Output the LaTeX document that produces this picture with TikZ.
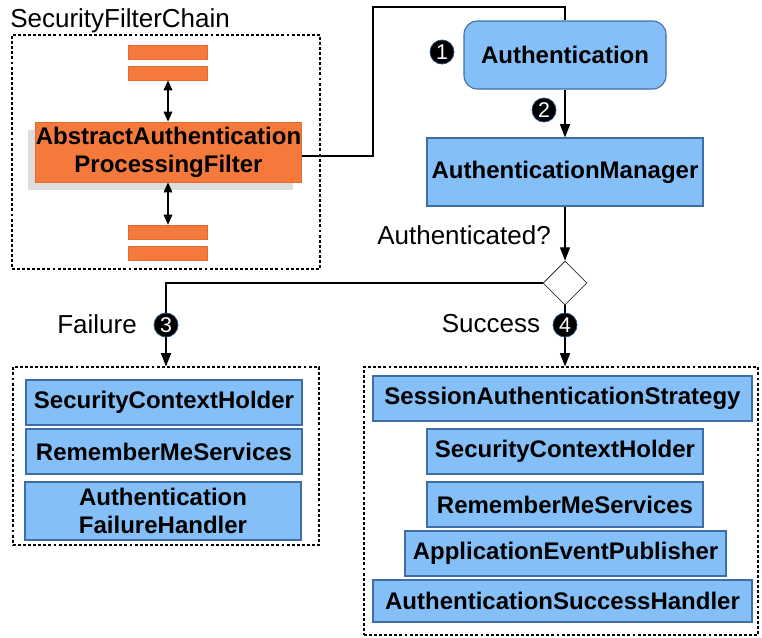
\documentclass[tikz,border=0pt]{standalone}
\usepackage{fontspec}
\setmainfont{Liberation Sans}
\usetikzlibrary{arrows.meta,shapes.geometric}
\definecolor{bluef}{HTML}{84BFF7}
\definecolor{blued}{HTML}{3F6EA6}
\definecolor{orangef}{HTML}{F5793B}
\definecolor{oranged}{HTML}{E06A30}
\definecolor{shadowc}{HTML}{DDDDDD}
\newcommand\pxu{0.75pt}
\begin{document}
\begin{tikzpicture}[x=0.75pt,y=-0.75pt,
  boxtext/.style={font=\bfseries\fontsize{18}{21}\selectfont},
  bluebox/.style={boxtext,draw=blued,fill=bluef,line width=0.8pt,inner sep=0pt,align=center},
  orangebox/.style={boxtext,draw=oranged,fill=orangef,line width=0.6pt,inner sep=0pt,align=center},
  bar/.style={draw=oranged,fill=orangef,line width=0.5pt,inner sep=0pt,minimum width=79*\pxu,minimum height=14*\pxu},
  dashbox/.style={draw=black,dash pattern=on 2.2pt off 1.6pt,line width=0.8pt,inner sep=0pt},
  lbl/.style={font=\fontsize{19.5}{22}\selectfont,inner sep=0pt},
  num/.style={circle,fill=black,draw=blued!70!black,line width=0.6pt,text=white,inner sep=0pt,minimum size=24*\pxu,font=\fontsize{16}{16}\selectfont},
  line/.style={draw=black,line width=1pt},
  arr/.style={line,-{Triangle[length=10pt,width=7.5pt]}},
  darr/.style={line,{Triangle[length=7.5pt,width=6.5pt]}-{Triangle[length=7.5pt,width=6.5pt]}}
]
\useasboundingbox (0,0) rectangle (762,637);

% Security filter chain
\node[lbl,anchor=base west] (sfc) at (10,27) {SecurityFilterChain};
\node[dashbox,minimum width=308*\pxu,minimum height=234*\pxu] (chain) at (166,152) {};
\node[bar] (b1) at (168,52) {};
\node[bar] (b2) at (168,73) {};
\node[bar] (b3) at (168,232) {};
\node[bar] (b4) at (168,253) {};
\node[fill=shadowc,inner sep=0pt,minimum width=265*\pxu,minimum height=60*\pxu] (shadow) at (160.5,160) {};
\node[orangebox,minimum width=265*\pxu,minimum height=60*\pxu] (aapf) at (168.5,152) {AbstractAuthentication\\ProcessingFilter};
\draw[darr] (b2.south) -- (b2.south |- aapf.north);
\draw[darr] (b3.north |- aapf.south) -- (b3.north);

% Authentication
\node[bluebox,rounded corners=10pt,minimum width=202*\pxu,minimum height=68*\pxu] (auth) at (565,55) {Authentication};
\node[bluebox,minimum width=276*\pxu,minimum height=68*\pxu] (am) at (565,172) {AuthenticationManager};
\node[draw=black!80,fill=white,diamond,aspect=1,inner sep=0pt,minimum size=44*\pxu,line width=0.6pt] (dia) at (565,283) {};
\node[lbl,anchor=east] (authq) at (551,235) {Authenticated?};

\coordinate (c1) at (373,7);
\draw[line] ([yshift=-3pt]aapf.east) -| (c1) -| (auth.north);
\draw[arr] (auth.south) -- (am.north);
\draw[arr] (am.south) -- (dia.north);

% Failure
\node[dashbox,minimum width=306*\pxu,minimum height=178*\pxu] (fbox) at (166,456) {};
\node[bluebox,minimum width=276*\pxu,minimum height=45*\pxu] (fsch) at (164,402.5) {SecurityContextHolder};
\node[bluebox,minimum width=276*\pxu,minimum height=45*\pxu] (frms) at (164,451.5) {RememberMeServices};
\node[bluebox,minimum width=276*\pxu,minimum height=58*\pxu] (fafh) at (163,511) {Authentication\\FailureHandler};
\node[lbl] (flbl) at (97,324) {Failure};

% Success
\node[dashbox,minimum width=394*\pxu,minimum height=268*\pxu] (sbox) at (561,501) {};
\node[bluebox,minimum width=379*\pxu,minimum height=45*\pxu] (ssas) at (562.5,398.5) {SessionAuthenticationStrategy};
\node[bluebox,minimum width=276*\pxu,minimum height=45*\pxu] (ssch) at (565,451.5) {SecurityContextHolder};
\node[bluebox,minimum width=276*\pxu,minimum height=45*\pxu] (srms) at (565,504.5) {RememberMeServices};
\node[bluebox,minimum width=321*\pxu,minimum height=45*\pxu] (saep) at (565.5,553.5) {ApplicationEventPublisher};
\node[bluebox,minimum width=379*\pxu,minimum height=42*\pxu] (sash) at (562.5,601) {AuthenticationSuccessHandler};
\node[lbl] (slbl) at (491,324) {Success};

\draw[arr] (dia.west) -| (fbox.north);
\draw[arr] (dia.south) -- (dia.south |- sbox.north);

% numbers
\node[num] (n1) at (442,52) {1};
\node[num] (n2) at (544,110) {2};
\node[num] (n3) at (166,325) {3};
\node[num] (n4) at (565,325) {4};
\end{tikzpicture}
\end{document}
